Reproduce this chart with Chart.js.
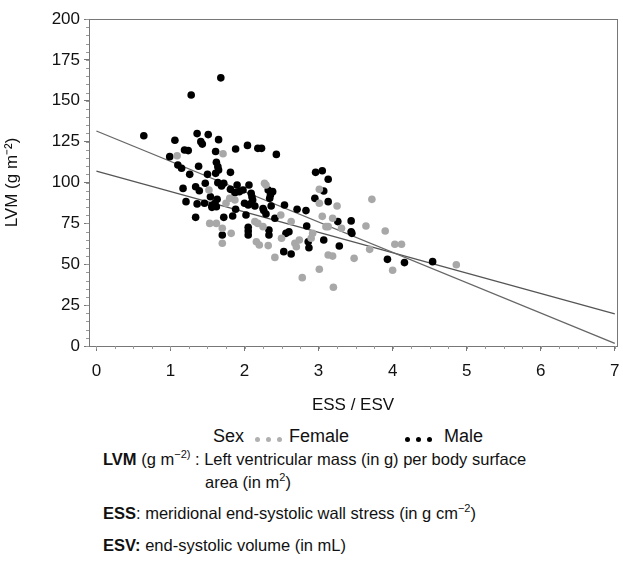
<!DOCTYPE html>
<html>
<head>
<meta charset="utf-8">
<script src="https://cdn.jsdelivr.net/npm/chart.js@4"></script>
<style>
  body { margin: 0; background: #fff; font-family: "Liberation Sans", Arial, sans-serif; color: #111; }
  #wrap { position: relative; width: 623px; height: 575px; }
  #box { position: absolute; left: 0; top: 0; width: 623px; height: 420px; }
  .lg { position: absolute; top: 426px; font-size: 18px; white-space: nowrap; }
  .dot { position: absolute; top: 437px; width: 5px; height: 5px; border-radius: 50%; }
  .note { position: absolute; left: 103px; font-size: 16.5px; white-space: nowrap; }
  .note sup { font-size: 11px; }
</style>
</head>
<body>
<div id="wrap">
  <div id="box"><canvas id="chart"></canvas></div>
  <div class="lg" style="left:213px">Sex</div>
  <div class="dot" style="left:255px;background:#b0b0b0"></div>
  <div class="dot" style="left:266px;background:#b0b0b0"></div>
  <div class="dot" style="left:277px;background:#b0b0b0"></div>
  <div class="lg" style="left:289px">Female</div>
  <div class="dot" style="left:405px;background:#000"></div>
  <div class="dot" style="left:416px;background:#000"></div>
  <div class="dot" style="left:427px;background:#000"></div>
  <div class="lg" style="left:444px">Male</div>
  <div class="note" style="top:448px"><b>LVM</b> (g m<sup>−2)</sup> : Left ventricular mass (in g) per body surface</div>
  <div class="note" style="top:471px;left:205px">area (in m<sup>2</sup>)</div>
  <div class="note" style="top:502px"><b>ESS</b>: meridional end-systolic wall stress (in g cm<sup>−2</sup>)</div>
  <div class="note" style="top:536px"><b>ESV:</b> end-systolic volume (in mL)</div>
</div>
<script>
// tick labels
const xTicks = [0, 1, 2, 3, 4, 5, 6, 7];
const yTicks = [0, 25, 50, 75, 100, 125, 150, 175, 200];

// ESS/ESV vs LVM
const female = [
  [1.09,116.4],[1.71,117.6],[1.52,95.4],[1.87,89.3],[1.75,87.3],[1.80,90.3],[1.53,75],[1.62,75],
  [1.70,72],[1.70,62.8],[1.82,68.9],[2.14,76.1],[2.18,75],[2.25,73],[2.16,63.8],[2.20,61.8],
  [2.32,61.4],[2.29,98.5],[2.27,99.5],[2.41,54.2],[2.50,65.9],[2.49,80.1],[2.63,76.1],[2.68,62.8],
  [2.70,60.7],[2.74,64.8],[2.78,41.8],[2.90,65.9],[2.92,68.9],[3.01,87.3],[3.01,95.8],[3.01,46.9],
  [3.05,79.3],[3.10,73],[3.13,73],[3.13,55.7],[3.19,55],[3.20,35.9],[3.25,85.6],[3.19,78.1],
  [3.31,72],[3.48,53.6],[3.64,73.4],[3.69,59.1],[3.72,89.7],[3.90,70.3],[4.03,62.2],[4.12,62.2],
  [4.00,46.3],[4.86,49.7]
];
const male = [
  [1.68,164],[1.28,153.5],[0.64,128.6],[1.06,125.8],[1.36,129.9],[1.51,129.3],[1.65,126.2],[1.41,125],
  [1.43,123.5],[1.19,119.9],[1.24,119.5],[0.99,115.8],[1.61,119],[1.88,120.5],[2.04,122.7],[2.18,120.9],
  [2.23,120.9],[2.43,117.2],[1.10,110.7],[1.15,108.7],[1.38,109.9],[1.62,112.4],[1.64,109.7],[1.65,107.6],
  [1.26,105],[1.50,105],[1.61,105.6],[1.81,106.2],[2.96,106.2],[3.05,107.2],[3.13,102],
  [1.64,99.9],[1.72,99.5],[1.47,99.5],[1.17,96.4],[1.34,97.4],[1.39,95.0],[1.69,97.9],[1.90,98.5],
  [1.81,95.8],[1.87,93.8],[1.93,94.4],[1.98,95.4],[2.06,98.5],[2.09,93.4],[2.10,91.3],[2.32,95.4],
  [2.38,94.4],[2.35,92.4],[2.34,90.3],[1.54,91.3],[1.63,89.7],[1.21,88.3],[1.36,86.9],[1.46,87.3],
  [1.56,86],[1.56,84.8],[1.62,85.2],[1.60,87.3],[2.00,87.3],[2.05,86.2],[2.09,87.3],[2.14,85.6],
  [2.11,89.3],[1.88,83.6],[2.26,82.8],[2.29,80.7],[2.54,86.2],[2.71,83.6],[2.83,82.8],[2.95,90.3],
  [3.07,94.8],[3.13,88.3],[1.34,78.7],[1.72,78.7],[1.84,79.5],[2.02,80.1],[2.41,78.1],[2.60,69.9],
  [2.56,68.9],[2.84,73.4],[2.86,63.8],[2.87,60.1],[3.07,64.8],[3.26,76.1],[3.44,76.5],[3.44,69.9],
  [3.45,68.9],[3.28,61.2],[1.70,67.9],[2.05,70.3],[2.05,67.9],[2.05,72.6],[2.33,70.9],[2.33,67.9],
  [2.53,57.7],[2.63,56.3],[2.25,84.1],[2.36,85.6],[3.93,53],[4.16,51],[4.54,51.6]
];

// regression lines (start and end)
const fitSteep = [[0, 131.5], [7, 1.6]];
const fitFlat = [[0, 107], [7, 19.6]];

const toXY = arr => arr.map(p => ({ x: p[0], y: p[1] }));

// box round the plot + minor ticks
const framePlugin = {
  id: "frame",
  afterDraw(chart) {
    const { ctx, chartArea: a, scales } = chart;
    ctx.save();
    ctx.strokeStyle = "#777";
    ctx.lineWidth = 1;
    ctx.strokeRect(a.left + 0.5, a.top + 0.5, a.right - a.left, a.bottom - a.top);
    ctx.strokeStyle = "#999";
    ctx.beginPath();
    for (let v = 0; v <= 200; v += 5) {
      const py = Math.round(scales.y.getPixelForValue(v)) + 0.5;
      ctx.moveTo(a.left - 3, py); ctx.lineTo(a.left, py);
    }
    for (let v = 0; v <= 7.001; v += 0.25) {
      const px = Math.round(scales.x.getPixelForValue(v)) + 0.5;
      ctx.moveTo(px, a.bottom); ctx.lineTo(px, a.bottom + 3);
    }
    ctx.stroke();
    ctx.restore();
  }
};

new Chart(document.getElementById("chart"), {
  type: "scatter",
  data: {
    datasets: [
      { label: "Female", data: toXY(female), backgroundColor: "#a8a8a8", borderWidth: 0, pointRadius: 3.8 },
      { label: "Male", data: toXY(male), backgroundColor: "#000", borderWidth: 0, pointRadius: 3.8 },
      { type: "line", label: "fit1", data: toXY(fitSteep), borderColor: "#666", borderWidth: 1.3, pointRadius: 0 },
      { type: "line", label: "fit2", data: toXY(fitFlat), borderColor: "#555", borderWidth: 1.3, pointRadius: 0 }
    ]
  },
  options: {
    responsive: true,
    maintainAspectRatio: false,
    animation: false,
    layout: { padding: { left: 0, right: 6, top: 19, bottom: 0 } },
    plugins: {
      legend: { display: false },
      tooltip: { enabled: false }
    },
    scales: {
      x: {
        type: "linear",
        min: -0.1,
        max: 7.03,
        afterBuildTicks: s => { s.ticks = xTicks.map(v => ({ value: v })); },
        afterFit: s => { s.height = 74; s.paddingLeft = 0; s.paddingRight = 0; },
        ticks: { color: "#111", font: { size: 17, family: "Liberation Sans" }, padding: 10 },
        grid: { drawOnChartArea: false, tickLength: 5, color: "#777" },
        border: { color: "#777" },
        title: { display: true, text: "ESS / ESV", color: "#111", font: { size: 17, family: "Liberation Sans" }, padding: { top: 2 } }
      },
      y: {
        min: 0,
        max: 200,
        afterBuildTicks: s => { s.ticks = yTicks.map(v => ({ value: v })); },
        afterFit: s => { s.width = 89; s.paddingTop = 0; s.paddingBottom = 0; },
        ticks: { color: "#111", font: { size: 17, family: "Liberation Sans" }, padding: 4 },
        grid: { drawOnChartArea: false, tickLength: 5, color: "#777" },
        border: { color: "#777" },
        title: { display: true, text: "LVM (g m⁻²)", color: "#111", font: { size: 17, family: "Liberation Sans" }, padding: 2 }
      }
    }
  },
  plugins: [framePlugin]
});
</script>
</body>
</html>
